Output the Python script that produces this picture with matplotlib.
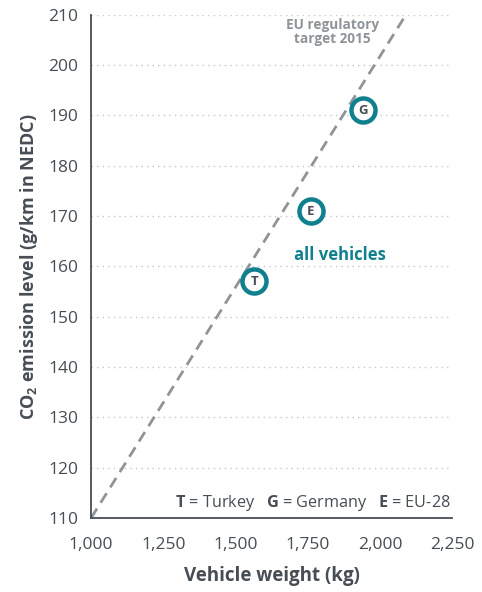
import matplotlib
matplotlib.use("Agg")
from matplotlib import pyplot as plt

# data
labels = ['T', 'E', 'G']
weight = [1565, 1760, 1940]
co2 = [157, 171, 191]
target_weight = [1000, 2090]
target_co2 = [110, 210]
x_ticks = [1000, 1250, 1500, 1750, 2000, 2250]
y_ticks = [110, 120, 130, 140, 150, 160, 170, 180, 190, 200, 210]

teal = '#10808f'
dark = '#474d54'
grey = '#8f9499'

plt.rcParams['font.family'] = ['Open Sans', 'DejaVu Sans']
plt.rcParams['mathtext.fontset'] = 'custom'
plt.rcParams['mathtext.rm'] = 'Open Sans'
plt.rcParams['mathtext.bf'] = 'Open Sans:bold'
plt.rcParams['mathtext.default'] = 'regular'

fig = plt.figure(figsize=(4.82, 5.92), dpi=100)
ax = fig.add_axes([0.189, 0.125, 0.749, 0.85])

for y in y_ticks[1:]:
    ax.axhline(y, color='#c4c7ca', lw=1, ls=(0, (1, 3)), zorder=0)

ax.plot(target_weight, target_co2, color=grey, lw=2, ls=(0, (4, 2.5)), zorder=1)

ax.scatter(weight, co2, s=300, facecolor='white', edgecolor=teal, linewidth=3.2, zorder=3)
for lab, x, y in zip(labels, weight, co2):
    ax.text(x, y, lab, ha='center', va='center', fontsize=9.5, fontweight='bold',
            color=dark, zorder=4)

ax.text(1835, 206.6, 'EU regulatory\ntarget 2015', ha='center', va='center', fontsize=9.8,
        fontweight='bold', color=grey, linespacing=1.05)
ax.text(1860, 162.2, 'all vehicles', ha='center', va='center', fontsize=12,
        fontweight='bold', color=teal)
ax.text(2245, 112.9, r'$\mathbf{T}$ = Turkey   $\mathbf{G}$ = Germany   $\mathbf{E}$ = EU-28',
        ha='right', va='center', fontsize=11.7, color=dark)

ax.set_xlim(1000, 2250)
ax.set_ylim(110, 210)
ax.set_xticks(x_ticks)
ax.set_xticklabels([f'{v:,}' for v in x_ticks])
ax.set_yticks(y_ticks)
ax.tick_params(length=0, labelsize=12.5, colors=dark)
ax.tick_params(axis='x', pad=14)
ax.tick_params(axis='y', pad=9)
for side in ['top', 'right']:
    ax.spines[side].set_visible(False)
for side in ['left', 'bottom']:
    ax.spines[side].set_color(dark)
    ax.spines[side].set_linewidth(1.3)

ax.set_xlabel('Vehicle weight (kg)', fontsize=13.5, fontweight='bold', color=dark, labelpad=9)
ax.set_ylabel(r'CO$_2$ emission level (g/km in NEDC)', fontsize=13, fontweight='bold',
              color=dark, labelpad=6)

fig.savefig('out.png', dpi=100)
